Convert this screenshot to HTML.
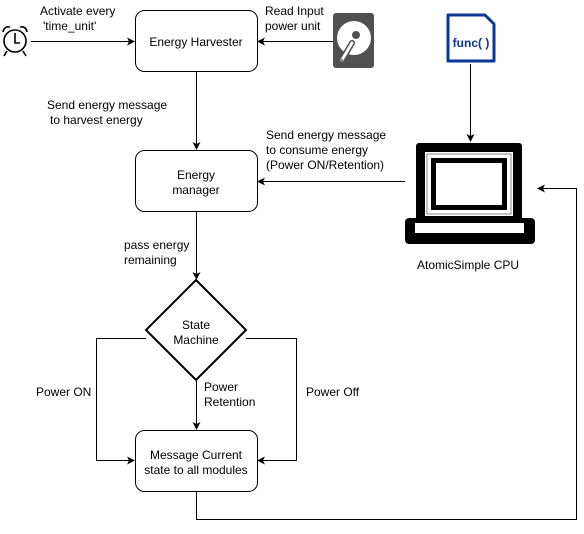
<!DOCTYPE html>
<html><head><style>
body{margin:0;background:#fff;width:584px;height:529px;overflow:hidden}
svg text{font-family:"Liberation Sans",sans-serif;font-size:12px;fill:#000}
</style></head><body>
<svg width="584" height="529" viewBox="0 0 584 529" xmlns="http://www.w3.org/2000/svg">
<defs><marker id="a" markerWidth="8" markerHeight="8" refX="7" refY="4" orient="auto" markerUnits="userSpaceOnUse"><path d="M0,0 L8,4 L0,8 L2,4 Z" fill="#000"/></marker></defs>
<g fill="none" stroke="#000" stroke-width="1">
<rect x="135.5" y="10.5" width="122" height="61" rx="9"/>
<rect x="135.5" y="150.5" width="122" height="61" rx="9"/>
<rect x="135.5" y="430.5" width="122" height="61" rx="9"/>
<path d="M196,280 L246,330 L196,380 L146,330 Z" stroke-width="2"/>
<line x1="31" y1="41.5" x2="134" y2="41.5" marker-end="url(#a)"/>
<line x1="333" y1="41.5" x2="258" y2="41.5" marker-end="url(#a)"/>
<line x1="196.5" y1="72" x2="196.5" y2="149" marker-end="url(#a)"/>
<line x1="196.5" y1="212" x2="196.5" y2="279" marker-end="url(#a)"/>
<line x1="196.5" y1="381" x2="196.5" y2="429" marker-end="url(#a)"/>
<line x1="470.5" y1="64" x2="470.5" y2="141" marker-end="url(#a)"/>
<line x1="405" y1="181.5" x2="258" y2="181.5" marker-end="url(#a)"/>
<polyline points="146,338.5 96.5,338.5 96.5,460.5 134,460.5" marker-end="url(#a)"/>
<polyline points="246,338.5 296.5,338.5 296.5,460.5 258,460.5" marker-end="url(#a)"/>
<polyline points="196.5,492 196.5,519.5 576.5,519.5 576.5,188.5 538,188.5" marker-end="url(#a)"/>
</g>
<g fill="none" stroke="#000" stroke-width="1.6">
<circle cx="15" cy="41" r="11"/>
<path d="M15,33 V43 H20"/>
<path d="M3,32 Q4,26 10,27"/><path d="M27,32 Q26,26 20,27"/>
<path d="M7,51 L4,56"/><path d="M23,51 L26,56"/>
</g>
<rect x="333" y="13" width="41" height="55" rx="3" fill="#505050"/>
<circle cx="354" cy="38" r="17" fill="#fff"/>
<circle cx="356" cy="35" r="4" fill="#505050"/>
<path d="M352,43 L342,60" stroke="#505050" stroke-width="6" stroke-linecap="round"/>
<path d="M352,43 L342,60" stroke="#fff" stroke-width="3" stroke-linecap="round"/>
<circle cx="342" cy="60" r="1" fill="#505050"/>
<path d="M448,15 H485 L494,24 V61 H448 Z" fill="#fff" stroke="#0a3696" stroke-width="3" stroke-linejoin="round"/>
<text x="471" y="47" text-anchor="middle" style="font-size:12px;font-weight:bold;fill:#0a3696">func( )</text>
<rect x="416" y="143" width="106" height="82" rx="3" fill="#000"/>
<rect x="425" y="152" width="88" height="64" fill="#fff"/>
<rect x="427" y="154" width="84" height="60" fill="none" stroke="#888" stroke-width="1"/>
<rect x="431" y="158" width="76" height="52" fill="#000"/>
<rect x="436" y="163" width="66" height="42" fill="#fff"/>
<rect x="405" y="218" width="130" height="26" rx="4" fill="#000"/>
<rect x="415" y="223" width="109" height="10" fill="#fff"/>
<text x="196" y="46" text-anchor="middle">Energy Harvester</text>
<text x="196" y="179" text-anchor="middle">Energy</text>
<text x="196" y="194" text-anchor="middle">manager</text>
<text x="196" y="329" text-anchor="middle">State</text>
<text x="196" y="344" text-anchor="middle">Machine</text>
<text x="196" y="459" text-anchor="middle">Message Current</text>
<text x="196" y="474" text-anchor="middle">state to all modules</text>
<text x="40" y="15">Activate every</text>
<text x="43" y="30">'time_unit'</text>
<text x="265" y="15">Read Input</text>
<text x="265" y="30">power unit</text>
<text x="47" y="109">Send energy message</text>
<text x="50" y="124"> to harvest energy</text>
<text x="266" y="139">Send energy message</text>
<text x="266" y="154">to consume energy</text>
<text x="266" y="169">(Power ON/Retention)</text>
<text x="124" y="249">pass energy</text>
<text x="124" y="264">remaining</text>
<text x="417" y="269">AtomicSimple CPU</text>
<text x="36" y="396">Power ON</text>
<text x="204" y="391">Power</text>
<text x="204" y="406">Retention</text>
<text x="306" y="396">Power Off</text>
</svg>
</body></html>
